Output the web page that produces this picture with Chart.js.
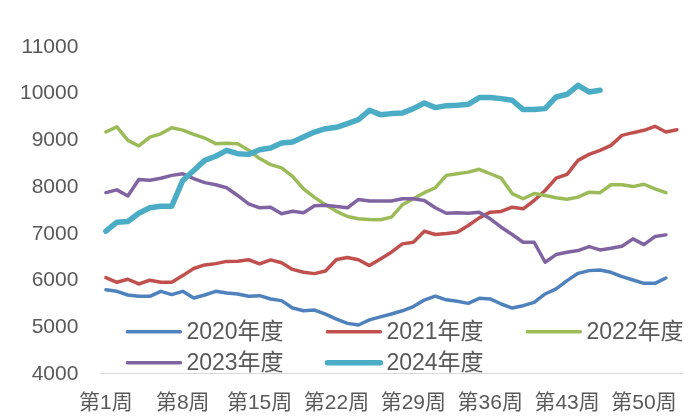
<!DOCTYPE html>
<html>
<head>
<meta charset="utf-8">
<script src="https://cdn.jsdelivr.net/npm/chart.js@4.4.0/dist/chart.umd.min.js"></script>
<style>
  html, body { margin: 0; padding: 0; background: #ffffff; }
</style>
</head>
<body>
<canvas id="weekChart" width="694" height="416"></canvas>
<script>
// x categories: 第1周 .. 第53周, only every 7th one gets a label
const weeks = Array.from({ length: 53 }, (_, i) => "第" + (i + 1) + "周");
const labelEvery = 7;

const seriesNames = ["2020年度", "2021年度", "2022年度", "2023年度", "2024年度"];

const y2020 = [5800, 5767, 5688, 5660, 5660, 5767, 5696, 5767, 5624, 5688,
    5767, 5732, 5710, 5660, 5674, 5602, 5567, 5409, 5352, 5366,
    5280, 5170, 5080, 5045, 5155, 5220, 5280, 5350, 5440, 5580,
    5665, 5585, 5552, 5509, 5616, 5603, 5495, 5409, 5459, 5530,
    5710, 5818, 5996, 6152, 6210, 6225, 6174, 6082, 6010, 5938,
    5938, 6053];

const y2021 = [6060, 5960, 6025, 5924, 6005, 5960, 5960, 6103, 6255, 6332,
    6360, 6408, 6411, 6443, 6354, 6440, 6380, 6236, 6175, 6146,
    6203, 6450, 6490, 6443, 6318, 6461, 6604, 6783, 6818, 7054,
    6983, 7005, 7033, 7176, 7341, 7462, 7477, 7569, 7534, 7712,
    7927, 8190, 8270, 8571, 8700, 8786, 8893, 9107, 9165, 9215,
    9301, 9179, 9229];

const y2022 = [9180, 9290, 9000, 8880, 9070, 9140, 9270, 9220, 9130, 9050,
    8930, 8940, 8930, 8790, 8610, 8480, 8410, 8230, 7960, 7780,
    7620, 7480, 7370, 7320, 7305, 7300, 7355, 7620, 7750, 7880,
    7985, 8250, 8285, 8320, 8380, 8285, 8190, 7860, 7750, 7860,
    7820, 7770, 7740, 7784, 7890, 7880, 8050, 8050, 8010, 8060,
    7960, 7880];

const y2023 = [7880, 7940, 7810, 8160, 8145, 8190, 8250, 8285, 8180, 8095,
    8050, 7985, 7820, 7640, 7556, 7570, 7430, 7480, 7450, 7600,
    7610, 7585, 7556, 7734, 7700, 7700, 7700, 7750, 7750, 7712,
    7556, 7440, 7448, 7441, 7462, 7320, 7140, 6983, 6818, 6818,
    6390, 6554, 6603, 6640, 6725, 6654, 6690, 6733, 6890, 6768,
    6940, 6976];

const y2024 = [7055, 7247, 7262, 7440, 7556, 7590, 7590, 8142, 8356, 8571,
    8660, 8786, 8714, 8700, 8800, 8835, 8943, 8964, 9071, 9179,
    9251, 9280, 9358, 9444, 9644, 9551, 9573, 9586, 9680, 9801,
    9702, 9744, 9751, 9773, 9916, 9916, 9894, 9859, 9659, 9659,
    9680, 9930, 9987, 10180, 10037, 10073];

const yMin = 4000;
const yMax = 11000;
const yStep = 1000;

const colors = ["#4F81BD", "#C0504D", "#9BBB59", "#8064A2", "#4BACC6"];
const widths = [3.5, 3.5, 3.5, 3.5, 5.5];
const allSeries = [y2020, y2021, y2022, y2023, y2024];

const fontFamily = "'Liberation Sans', 'Noto Sans CJK SC', sans-serif";
const textColor = "#595959";

// legend sits inside the plot, 3 per row, drawn after the lines
const plotLegend = {
    id: "plotLegend",
    afterDraw(chart) {
        const ctx = chart.ctx;
        const area = chart.chartArea;
        ctx.save();
        ctx.font = "23px " + fontFamily;
        ctx.fillStyle = textColor;
        ctx.textBaseline = "middle";
        ctx.lineCap = "round";
        chart.data.datasets.forEach((ds, i) => {
            const col = i % 3;
            const row = Math.floor(i / 3);
            const x = area.left + 27 + col * 200;
            const y = area.bottom - 42 + row * 31;
            ctx.strokeStyle = ds.borderColor;
            ctx.lineWidth = ds.borderWidth;
            ctx.beginPath();
            ctx.moveTo(x, y);
            ctx.lineTo(x + 53, y);
            ctx.stroke();
            ctx.fillText(ds.label, x + 59, y + 1);
        });
        ctx.restore();
    }
};

const datasets = allSeries.map((values, i) => ({
    label: seriesNames[i],
    data: values,
    borderColor: colors[i],
    backgroundColor: colors[i],
    borderWidth: widths[i],
    pointRadius: 0,
    tension: 0,
    fill: false,
    borderJoinStyle: "round",
    borderCapStyle: "round",
    // later years drawn on top
    order: allSeries.length - 1 - i
}));

new Chart(document.getElementById("weekChart"), {
    type: "line",
    data: {
        labels: weeks,
        datasets: datasets
    },
    options: {
        responsive: false,
        animation: false,
        events: [],
        layout: {
            padding: { left: -2, right: 11, top: 47, bottom: -17 }
        },
        plugins: {
            legend: { display: false },
            tooltip: { enabled: false }
        },
        scales: {
            x: {
                type: "category",
                offset: true,
                grid: { display: false, drawTicks: false },
                border: { display: true, color: "#D9D9D9", width: 1 },
                ticks: {
                    autoSkip: false,
                    maxRotation: 0,
                    minRotation: 0,
                    padding: 17,
                    color: textColor,
                    font: { family: fontFamily, size: 21 },
                    callback: function (value, index) {
                        return index % labelEvery === 0 ? weeks[index] : "";
                    }
                }
            },
            y: {
                min: yMin,
                max: yMax,
                grid: { display: false, drawTicks: false },
                border: { display: false },
                ticks: {
                    stepSize: yStep,
                    padding: 22,
                    color: textColor,
                    font: { family: fontFamily, size: 21 },
                    callback: value => String(value)
                }
            }
        }
    },
    plugins: [plotLegend]
});
</script>
</body>
</html>
